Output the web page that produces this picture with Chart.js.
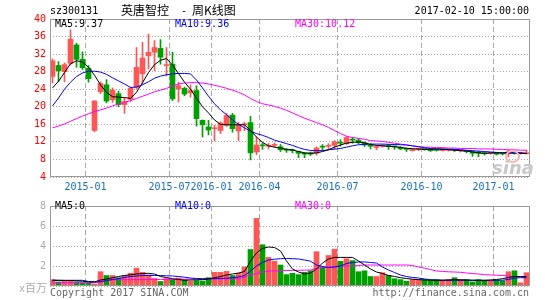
<!DOCTYPE html>
<html>
<head>
<meta charset="utf-8">
<script src="https://cdn.jsdelivr.net/npm/chart.js@4.4.1/dist/chart.umd.min.js"></script>
<style>
  body { margin: 0; width: 545px; height: 300px; background: #fff; position: relative; overflow: hidden; font-family: 'DejaVu Sans Mono', monospace; }
  canvas { position: absolute; left: 0; }
  #kChart { top: 0; }
  #volChart { top: 196px; }
  .txt { position: absolute; font-size: 10px; line-height: 12px; white-space: pre; }
  .cjk { font-family: 'Noto Sans CJK SC', sans-serif; font-size: 12px; line-height: 14px; }
</style>
</head>
<body>
<canvas id="kChart" width="545" height="196"></canvas>
<canvas id="volChart" width="545" height="104"></canvas>

<div class="txt" style="left:50px;top:5px;">sz300131</div>
<div class="txt cjk" style="left:121px;top:3px;">英唐智控</div>
<div class="txt" style="left:181px;top:5px;">-</div>
<div class="txt cjk" style="left:192px;top:3px;">周K线图</div>
<div class="txt" style="right:16px;top:5px;">2017-02-10 15:00:00</div>

<div class="txt" style="left:55px;top:18px;color:#000;">MA5:9.37</div>
<div class="txt" style="left:175px;top:18px;color:#00f;">MA10:9.36</div>
<div class="txt" style="left:295px;top:18px;color:#f0f;">MA30:10.12</div>

<div class="txt" style="left:55px;top:200px;color:#000;">MA5:0</div>
<div class="txt" style="left:175px;top:200px;color:#00f;">MA10:0</div>
<div class="txt" style="left:295px;top:200px;color:#f0f;">MA30:0</div>

<div class="txt" style="left:19px;top:280px;color:#aaa;">x<span class="cjk" style="font-size:11px;">百万</span></div>
<div class="txt" style="left:50px;top:287px;color:#666;">Copyright 2017 SINA.COM</div>
<div class="txt" style="right:16px;top:287px;color:#666;">http://finance.sina.com.cn</div>

<div style="position:absolute;left:505px;top:150px;width:11px;height:9px;border:2px solid #f5b5b5;border-radius:50%;"></div>
<div class="txt" style="left:492px;top:157px;font:italic bold 18px 'DejaVu Sans', sans-serif;color:#c8c8c8;">sina</div>

<script>
// weekly candles (80 weeks)
const candleOpen = [26.9, 29.4, 28.0, 29.9, 34.1, 30.8, 28.8, 14.6, 23.4, 25.0,
  21.6, 23.0, 20.5, 21.7, 24.4, 27.5, 31.6, 32.4, 33.3, 29.4,
  29.7, 24.1, 24.2, 23.2, 23.7, 16.9, 15.4, 15.0, 14.6, 15.8,
  18.1, 14.5, 15.9, 16.4, 9.7, 11.3, 11.0, 11.2, 10.9, 10.2,
  10.1, 9.8, 9.3, 9.5, 9.4, 10.9, 11.0, 11.2, 11.8, 11.6,
  12.5, 12.4, 11.8, 11.1, 10.7, 11.0, 11.3, 10.9, 10.8, 10.35,
  10.0, 10.3, 10.3, 10.4, 10.1, 10.0, 10.1, 10.2, 9.95, 9.85,
  9.8, 9.7, 9.5, 9.4, 9.5, 9.3, 9.3, 9.7, 9.35, 9.3];
const candleClose = [30.5, 28.2, 29.6, 35.4, 30.8, 28.9, 26.4, 21.3, 25.3, 21.3,
  23.8, 20.5, 21.2, 24.2, 29.0, 31.1, 32.4, 33.5, 31.3, 29.6,
  21.8, 24.8, 22.9, 23.7, 17.3, 15.9, 14.7, 15.1, 16.3, 18.0,
  15.0, 15.9, 16.0, 9.5, 11.3, 11.1, 11.1, 11.3, 10.2, 10.1,
  10.0, 9.4, 9.2, 9.2, 10.6, 10.8, 11.1, 12.0, 11.7, 13.0,
  12.4, 11.8, 11.3, 11.0, 10.8, 11.1, 10.9, 10.85, 10.4, 10.3,
  10.3, 10.35, 10.25, 10.0, 10.05, 10.3, 10.15, 10.1, 10.0, 9.8,
  9.4, 9.4, 9.3, 9.45, 9.2, 9.25, 9.8, 9.4, 9.4, 9.35];
const candleHigh = [30.9, 30.3, 30.0, 37.5, 34.5, 32.5, 29.4, 21.4, 25.7, 26.2,
  24.3, 23.6, 22.0, 24.5, 33.5, 34.7, 36.6, 35.1, 35.3, 33.5,
  32.4, 25.6, 24.5, 25.0, 24.8, 17.0, 16.9, 15.8, 16.6, 18.5,
  18.5, 16.5, 16.5, 17.8, 13.1, 11.8, 11.7, 11.8, 11.4, 10.5,
  10.4, 9.9, 9.6, 9.7, 10.9, 11.4, 11.6, 12.3, 12.5, 13.2,
  13.0, 12.8, 12.0, 11.6, 11.2, 11.4, 11.4, 11.1, 10.9, 10.6,
  10.4, 10.6, 10.4, 10.5, 10.3, 10.4, 10.3, 10.3, 10.1, 10.0,
  9.9, 9.9, 9.6, 9.6, 9.6, 9.5, 10.2, 9.8, 9.6, 10.1];
const candleLow = [25.4, 25.7, 25.7, 29.5, 29.0, 28.5, 25.6, 14.3, 23.0, 20.9,
  21.0, 20.0, 18.5, 21.2, 24.0, 25.2, 28.6, 28.2, 29.7, 27.0,
  21.4, 21.1, 22.5, 22.2, 15.6, 13.1, 13.6, 12.2, 13.9, 15.5,
  14.2, 12.3, 14.5, 7.9, 9.1, 10.3, 10.4, 10.8, 9.8, 9.6,
  9.5, 8.4, 8.4, 8.9, 9.0, 10.1, 10.3, 10.4, 11.0, 11.4,
  11.7, 11.6, 10.9, 10.4, 10.2, 10.8, 10.3, 10.3, 10.2, 9.8,
  9.9, 10.0, 10.1, 9.8, 9.9, 9.9, 9.9, 9.8, 9.7, 9.5,
  8.7, 8.6, 9.0, 9.2, 9.0, 9.0, 8.6, 9.2, 9.2, 9.2];

// price moving averages as drawn
const ma5 = [24.3, 25.8, 27.8, 29.8, 30.5, 30.2, 29.0, 27.2, 25.0, 23.3,
  22.3, 22.2, 22.1, 21.9, 23.3, 25.5, 27.8, 29.6, 30.6, 31.0,
  29.5, 27.6, 25.6, 24.0, 22.0, 20.0, 18.6, 17.0, 16.0, 15.9,
  15.9, 15.9, 15.9, 14.6, 13.1, 11.9, 11.1, 10.8, 10.6, 10.3,
  10.15, 9.8, 9.5, 9.4, 9.5, 9.8, 10.2, 10.8, 11.3, 11.7,
  11.9, 12.0, 11.8, 11.4, 11.2, 11.1, 11.0, 10.9, 10.75, 10.55,
  10.45, 10.35, 10.3, 10.3, 10.4, 10.3, 10.2, 10.1, 10.0, 9.9,
  9.7, 9.5, 9.4, 9.45, 9.5, 9.5, 9.6, 9.7, 9.5, 9.37];
const ma10 = [20.2, 22.0, 24.0, 25.6, 26.9, 27.7, 28.1, 28.1, 27.9, 27.4,
  26.6, 25.9, 25.2, 24.4, 24.5, 25.0, 25.7, 26.5, 27.0, 27.3,
  27.5, 27.6, 27.6, 27.5, 26.1, 24.3, 22.4, 20.7, 19.3, 18.2,
  17.0, 16.0, 15.2, 14.4, 13.9, 13.5, 13.0, 12.4, 12.0, 11.6,
  11.2, 10.7, 10.3, 10.05, 10.0, 10.0, 10.2, 10.35, 10.5, 10.8,
  11.1, 11.35, 11.45, 11.5, 11.5, 11.5, 11.45, 11.4, 11.35, 11.3,
  11.1, 10.9, 10.7, 10.5, 10.4, 10.4, 10.35, 10.3, 10.2, 10.1,
  10.0, 9.9, 9.8, 9.7, 9.6, 9.5, 9.45, 9.4, 9.38, 9.36];
const ma30 = [15.2, 15.6, 16.1, 16.7, 17.3, 17.9, 18.4, 18.9, 19.3, 19.7,
  20.2, 20.6, 21.0, 21.4, 21.9, 22.4, 22.9, 23.4, 23.8, 24.2,
  24.7, 25.2, 25.4, 25.5, 25.5, 25.4, 25.2, 24.9, 24.6, 24.2,
  23.8, 23.3, 22.7, 21.9, 21.2, 20.7, 20.4, 20.1, 19.7, 19.2,
  18.6, 18.0, 17.4, 16.9, 16.4, 15.9, 15.3, 14.6, 13.9, 13.3,
  13.0, 12.8, 12.6, 12.3, 12.2, 12.1, 11.9, 11.7, 11.5, 11.3,
  11.1, 10.9, 10.8, 10.8, 10.7, 10.7, 10.6, 10.6, 10.5, 10.5,
  10.5, 10.4, 10.4, 10.4, 10.3, 10.3, 10.2, 10.2, 10.1, 10.12];

// weekly volume, millions of shares
const volume = [0.64, 0.41, 0.57, 0.51, 0.41, 0.35, 0.32, 0.19, 1.43, 1.05,
  1.05, 0.83, 1.05, 1.27, 1.78, 1.37, 1.11, 0.75, 0.45, 0.75,
  0.65, 0.80, 0.64, 0.48, 0.55, 0.50, 0.83, 1.37, 1.37, 1.46,
  1.05, 1.27, 1.90, 3.65, 6.76, 4.13, 2.86, 2.48, 2.10, 1.14,
  1.27, 1.14, 1.37, 1.52, 3.43, 1.90, 3.05, 3.68, 2.48, 2.73,
  2.54, 1.43, 1.52, 0.95, 0.95, 1.33, 1.05, 0.73, 0.64, 0.48,
  0.64, 0.64, 0.64, 0.57, 0.64, 0.57, 0.64, 0.83, 0.64, 0.64,
  0.41, 0.64, 0.57, 0.48, 0.57, 0.51, 1.43, 1.52, 0.32, 1.33];
const volMa5 = [0.57, 0.57, 0.55, 0.55, 0.52, 0.48, 0.41, 0.41, 0.6, 0.7,
  0.83, 0.95, 1.05, 1.12, 1.2, 1.25, 1.27, 1.2, 0.95, 0.85,
  0.73, 0.65, 0.57, 0.6, 0.62, 0.64, 0.7, 0.83, 0.95, 1.1,
  1.2, 1.3, 1.45, 2.5, 3.3, 3.75, 3.9, 3.85, 3.5, 2.5,
  1.7, 1.4, 1.2, 1.3, 1.7, 2.3, 2.7, 2.86, 2.86, 2.86,
  2.86, 2.5, 2.1, 1.7, 1.4, 1.25, 1.05, 0.95, 0.83, 0.75,
  0.68, 0.64, 0.6, 0.58, 0.57, 0.58, 0.6, 0.64, 0.62, 0.6,
  0.58, 0.57, 0.57, 0.6, 0.65, 0.73, 0.85, 0.95, 0.95, 0.95];
const volMa10 = [0.57, 0.57, 0.57, 0.57, 0.57, 0.57, 0.45, 0.41, 0.41, 0.55,
  0.65, 0.73, 0.85, 0.95, 1.0, 1.05, 1.05, 1.05, 1.05, 1.02,
  1.0, 0.95, 0.88, 0.8, 0.75, 0.73, 0.73, 0.73, 0.75, 0.78,
  0.83, 0.9, 1.05, 1.5, 2.0, 2.35, 2.6, 2.68, 2.73, 2.75,
  2.73, 2.7, 2.6, 2.48, 2.1, 1.95, 1.85, 1.9, 2.0, 2.25,
  2.35, 2.4, 2.41, 2.35, 2.3, 1.9, 1.6, 1.35, 1.1, 0.95,
  0.85, 0.8, 0.7, 0.64, 0.6, 0.58, 0.57, 0.57, 0.57, 0.57,
  0.57, 0.57, 0.57, 0.57, 0.57, 0.58, 0.65, 0.8, 0.83, 0.83];
const volMa30 = [0.32, 0.32, 0.32, 0.32, 0.32, 0.32, 0.32, 0.32, 0.5, 0.57,
  0.62, 0.62, 0.63, 0.63, 0.64, 0.64, 0.65, 0.65, 0.66, 0.66,
  0.66, 0.68, 0.68, 0.69, 0.7, 0.7, 0.71, 0.72, 0.72, 0.73,
  0.73, 0.73, 0.9, 1.1, 1.25, 1.4, 1.5, 1.52, 1.52, 1.55,
  1.56, 1.57, 1.58, 1.6, 1.75, 1.84, 1.88, 1.92, 1.96, 2.0,
  2.0, 2.05, 2.1, 2.1, 2.1, 2.1, 2.1, 2.1, 2.1, 2.1,
  2.05, 1.9, 1.78, 1.65, 1.5, 1.46, 1.42, 1.4, 1.37, 1.3,
  1.25, 1.2, 1.14, 1.1, 1.08, 1.05, 1.0, 0.95, 0.9, 0.85];

// month labels and the week where each starts
const tickLabels = ['2015-01', '2015-07', '2016-01', '2016-04', '2016-07', '2016-10', '2017-01'];
const tickWeeks = [6, 20, 27, 35, 48, 62, 74];

const UP = '#ff5555';
const DOWN = '#00a000';
const candleColors = candleOpen.map((o, i) => candleClose[i] >= o ? UP : DOWN);

// 6px per week, bar centred on a half pixel boundary
const xMin = -2.5 / 6;
const xMax = xMin + candleOpen.length;

Chart.defaults.font.family = "'DejaVu Sans Mono', monospace";
Chart.defaults.font.size = 10;
Chart.defaults.animation = false;

const framePlugin = {
    id: 'frame',
    afterDraw(chart) {
        const a = chart.chartArea;
        const ctx = chart.ctx;
        ctx.save();
        ctx.strokeStyle = '#999';
        ctx.lineWidth = 1;
        ctx.strokeRect(a.left + 0.5, a.top + 0.5, a.right - a.left - 1, a.bottom - a.top - 1);
        ctx.restore();
    }
};

function monthTicks(scale) {
    scale.ticks = tickWeeks.map(w => ({ value: w - 0.5 }));
}

function lineSet(values, color) {
    return {
        type: 'line',
        data: values.map((v, i) => ({ x: i, y: v })),
        borderColor: color,
        borderWidth: 1,
        pointRadius: 0,
        tension: 0,
        order: 0
    };
}

function xScale(showLabels) {
    return {
        type: 'linear',
        min: xMin,
        max: xMax,
        offset: false,
        afterBuildTicks: monthTicks,
        afterFit: s => { s.height = showLabels ? 19 : 0; },
        grid: { color: '#aaa', drawTicks: false, offset: false },
        border: { display: false, dash: [5, 3] },
        ticks: {
            display: showLabels,
            autoSkip: false,
            maxRotation: 0,
            padding: 4,
            color: '#1a6fc0',
            callback: (v, i) => tickLabels[i]
        }
    };
}

// price panel
new Chart(document.getElementById('kChart'), {
    type: 'bar',
    data: {
        datasets: [
            lineSet(ma5, '#000'),
            lineSet(ma10, '#00f'),
            lineSet(ma30, '#f0f'),
            {
                data: candleOpen.map((o, i) => ({ x: i, y: [o, candleClose[i]] })),
                backgroundColor: candleColors,
                barThickness: 5,
                minBarLength: 1,
                grouped: false,
                order: 1
            },
            {
                data: candleLow.map((l, i) => ({ x: i, y: [l, candleHigh[i]] })),
                backgroundColor: candleColors,
                barThickness: 1,
                grouped: false,
                order: 2
            }
        ]
    },
    options: {
        responsive: false,
        layout: { padding: { top: 19, right: 15, left: 0, bottom: 0 } },
        plugins: { legend: { display: false }, tooltip: { enabled: false } },
        scales: {
            x: xScale(true),
            y: {
                min: 4,
                max: 40,
                afterFit: s => { s.width = 50; },
                grid: { color: '#aaa', drawTicks: false },
                border: { display: false, dash: [1, 2] },
                ticks: { stepSize: 4, color: '#f00', padding: 4 }
            }
        }
    },
    plugins: [framePlugin]
});

// volume panel
new Chart(document.getElementById('volChart'), {
    type: 'bar',
    data: {
        datasets: [
            lineSet(volMa5, '#000'),
            lineSet(volMa10, '#00f'),
            lineSet(volMa30, '#f0f'),
            {
                data: volume.map((v, i) => ({ x: i, y: v })),
                backgroundColor: candleColors,
                barThickness: 5,
                grouped: false,
                order: 1
            }
        ]
    },
    options: {
        responsive: false,
        layout: { padding: { top: 6, right: 15, left: 0, bottom: 14 } },
        plugins: { legend: { display: false }, tooltip: { enabled: false } },
        scales: {
            x: xScale(false),
            y: {
                min: 0,
                max: 8,
                afterFit: s => { s.width = 50; },
                grid: { color: '#aaa', drawTicks: false },
                border: { display: false, dash: [1, 2] },
                ticks: {
                    stepSize: 2,
                    color: '#aaa',
                    padding: 4,
                    callback: v => v === 0 ? '' : v
                }
            }
        }
    },
    plugins: [framePlugin]
});
</script>
</body>
</html>
